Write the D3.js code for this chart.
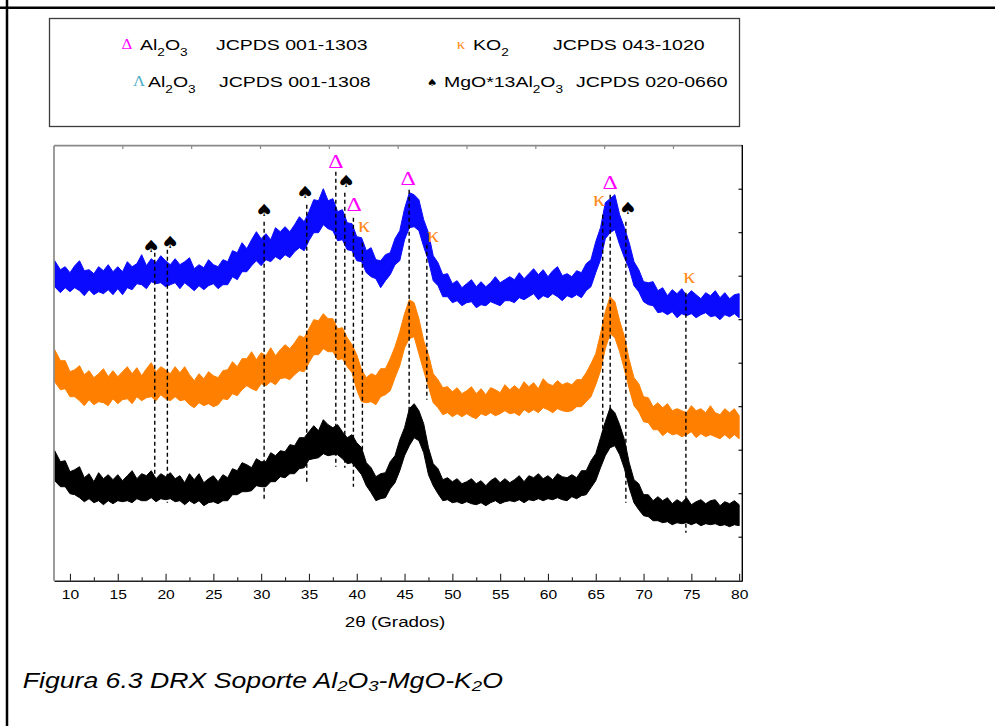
<!DOCTYPE html>
<html><head><meta charset="utf-8">
<script src="https://cdn.jsdelivr.net/npm/d3@7"></script>
<style>body{margin:0;background:#fff}svg{display:block}</style>
</head><body><svg id="c" width="995" height="726"></svg>
<script>
// ---------------- DATA ----------------
const angles = [8.4,9,9.5,10,10.5,11,11.5,12,12.5,13,13.5,14,
14.5,15,15.5,16,16.5,17,17.5,18,18.5,19,19.5,20,
20.5,21,21.5,22,22.5,23,23.5,24,24.5,25,25.5,26,
26.5,27,27.5,28,28.5,29,29.5,30,30.5,31,31.5,32,
32.5,33,33.5,34,34.5,35,35.5,36,36.5,37,37.5,38,
38.5,39,39.5,40,40.5,41,41.5,42,42.5,43,43.5,44,
44.5,45,45.5,46,46.5,47,47.5,48,48.5,49,49.5,50,
50.5,51,51.5,52,52.5,53,53.5,54,54.5,55,55.5,56,
56.5,57,57.5,58,58.5,59,59.5,60,60.5,61,61.5,62,
62.5,63,63.5,64,64.5,65,65.5,66,66.5,67,67.5,68,
68.5,69,69.5,70,70.5,71,71.5,72,72.5,73,73.5,74,
74.5,75,75.5,76,76.5,77,77.5,78,78.5,79,79.5,80];

// intensity (a.u.): centre of each noisy trace, plus how far the noise reaches above / below it
const blueMid = [304,303,302,302,301,302,301,300,300,299,300,299,
300,301,302,303,304,305,307,307,308,309,308,309,
308,307,306,306,305,305,304,304,305,305,306,307,
309,313,316,319,323,326,329,331,331,333,335,336,
337,339,341,343,347,353,359,366,368,367,363,357,
353,347,341,335,329,322,316,311,308,311,319,326,
336,353,367,371,363,349,331,316,305,298,293,290,
288,287,287,286,286,286,287,287,288,289,289,290,
291,292,293,294,295,295,296,296,296,296,295,295,
295,296,297,301,309,321,338,356,366,366,353,336,
323,309,298,291,286,283,281,279,278,278,277,277,
277,276,276,276,276,276,275,275,275,275,275,275];
const blueUp = [16,8,12,6,14,18,9,11,7,15,10,17,
9,13,7,16,10,12,19,8,14,9,17,11,
8,15,10,13,18,7,12,9,16,11,8,14,
10,17,12,19,9,15,20,11,16,8,18,13,
17,10,15,21,12,16,22,14,24,13,19,12,
18,11,16,9,14,8,17,10,12,15,9,16,
14,19,21,15,18,12,17,9,13,8,14,7,
12,6,10,15,8,13,7,11,16,9,12,14,
10,16,9,13,17,11,15,8,14,18,10,12,
9,14,11,16,12,18,15,22,16,20,13,17,
15,10,13,8,12,16,9,14,7,13,10,15,
8,14,10,6,12,9,15,8,13,7,11,12];
const blueDown = [10,15,9,13,8,12,16,9,14,10,13,8,
14,9,16,10,13,8,11,15,9,12,10,15,
12,9,14,8,11,15,9,13,10,8,14,11,
13,9,15,10,14,11,9,16,10,14,11,15,
11,16,12,10,17,13,11,18,12,15,13,17,
12,16,11,15,10,14,12,9,15,11,13,10,
16,12,14,17,13,15,11,16,10,14,9,12,
8,12,9,7,13,10,12,8,11,14,9,10,
13,9,12,10,8,14,11,13,9,12,15,10,
12,10,14,11,15,13,17,14,18,15,17,13,
11,14,9,12,10,8,13,10,12,9,14,10,
12,9,13,10,8,12,10,14,9,11,8,12];

const orangeMid = [213,209,204,200,197,195,194,193,193,192,193,193,
194,194,195,195,195,196,196,197,197,198,198,198,
197,196,195,194,192,191,190,190,190,191,192,194,
197,200,203,205,207,208,209,210,212,213,214,215,
217,219,221,223,228,234,240,244,247,248,244,239,
236,231,221,207,197,192,191,193,197,202,208,217,
231,247,259,259,245,226,208,195,186,182,180,179,
178,178,177,177,177,178,178,178,179,179,180,180,
181,181,182,182,183,183,184,184,184,184,184,184,
185,186,188,192,199,210,227,247,263,261,245,225,
206,191,181,174,169,165,163,161,160,160,159,159,
159,159,158,158,158,158,157,157,157,156,156,155];
const orangeUp = [18,11,16,9,14,20,12,17,10,15,19,11,
16,10,14,19,12,17,9,15,21,11,16,13,
10,18,13,20,14,9,17,12,19,14,11,16,
14,19,11,17,15,21,12,18,13,20,11,16,
19,13,17,22,15,18,21,16,20,14,18,13,
17,12,15,19,14,11,16,12,15,10,14,17,
18,20,22,19,17,14,18,12,15,11,14,10,
15,9,13,17,10,14,8,15,12,9,16,11,
14,10,17,12,15,9,18,13,11,16,12,14,
11,15,13,16,18,17,20,22,21,18,15,19,
15,12,16,10,14,9,15,12,17,10,13,11,
9,16,12,14,10,17,11,9,15,12,16,10];
const orangeDown = [14,18,12,16,13,15,19,12,17,13,15,18,
12,17,14,13,18,12,16,14,13,18,12,16,
17,12,15,13,16,18,12,15,13,17,16,12,
16,13,18,14,12,16,19,13,17,14,18,13,
14,18,15,13,19,16,14,18,15,19,15,18,
14,17,13,16,18,14,12,17,13,16,18,14,
16,14,17,15,18,16,14,17,13,16,12,15,
11,14,10,13,15,11,13,10,14,12,10,13,
13,16,11,14,12,15,11,13,16,12,14,15,
15,12,14,13,15,14,17,15,16,18,16,14,
14,16,12,15,11,14,12,16,11,14,12,15,
13,10,15,11,14,12,13,15,11,14,10,13];

const blackMid = [113,109,105,101,98,96,94,93,92,92,91,91,
91,91,92,92,93,93,93,94,94,94,94,94,
93,93,92,91,91,90,90,89,90,90,91,92,
94,97,99,101,103,105,106,107,109,111,113,115,
117,119,122,125,129,133,136,138,140,141,140,138,
135,132,130,126,118,109,100,94,93,97,104,112,
124,138,150,157,156,141,121,107,98,93,91,90,
89,89,88,88,88,88,88,89,89,89,90,90,
91,91,91,92,92,92,93,93,93,93,93,93,
94,94,96,99,105,114,126,140,149,150,142,125,
105,91,82,77,74,72,71,70,69,69,69,69,
69,68,68,68,68,68,67,67,67,67,67,67];
const blackUp = [17,10,15,8,13,18,9,14,7,16,11,15,
10,15,8,13,17,9,14,11,16,8,13,10,
15,9,13,7,16,11,17,9,12,15,8,14,
9,15,11,17,13,8,16,12,10,17,12,15,
12,17,13,18,14,16,19,12,21,15,13,18,
14,11,16,12,15,9,13,10,14,11,15,13,
17,15,22,20,14,16,12,10,14,8,12,9,
13,8,11,14,9,12,7,11,14,9,12,8,
10,14,8,13,11,15,9,12,8,14,11,10,
12,9,14,11,15,13,17,19,24,18,14,16,
13,10,15,9,12,8,13,10,14,8,12,9,
14,8,11,13,9,12,14,8,12,10,13,9];
const blackDown = [13,15,11,14,12,13,15,11,14,12,15,11,
14,11,13,12,15,11,13,14,11,15,12,13,
11,14,12,15,11,13,10,14,12,11,14,12,
14,11,13,12,14,15,11,13,15,12,14,11,
14,12,15,13,16,12,14,15,13,16,14,12,
13,15,12,14,12,14,12,14,11,14,12,14,
14,13,15,14,16,13,15,12,11,13,10,12,
10,12,9,11,12,10,13,11,9,12,11,10,
12,10,13,11,12,10,13,11,12,10,12,13,
10,12,11,13,12,14,13,15,16,15,16,13,
12,13,11,12,10,12,11,12,10,13,11,12,
11,12,10,13,11,12,10,12,11,13,11,12];

const xMajorTicks = [10,15,20,25,30,35,40,45,50,55,60,65,70,75,80];
const xMinorTicks = [12.5,17.5,22.5,27.5,32.5,37.5,42.5,47.5,52.5,57.5,62.5,67.5,72.5,77.5];

// reflection markers
const peakAngles      = [18.87,20.19,30.31,34.77,37.81,38.75,39.65,40.59,45.48,47.33,65.73,66.51,68.15,74.43];
const peakPhases      = ["S","S","S","S","D","S","D","K","D","K","K","D","S","K"];
const peakLabelAngles = [18.48,20.47,30.31,34.6,37.81,38.89,39.72,40.77,45.37,47.99,65.36,66.51,68.36,74.78];
const peakLabelLevels = [335,339,371,389,419,400,376,353,402,343,379,398,373,302];
const peakLineTops    = [328,331,359,376,409,388,363,338,391,336,366,386,359,288];
const peakLineBottoms = [81,78,79,96,114,113,94,131,169,181,131,141,78,48];

// legend
const legendSymbols  = ["Δ","κ","Λ","♠"];
const legendColors   = ["#ff00ff","#ff8c1a","#4bacc6","#000000"];
const legendFormulas = [[["Al"],["2",1],["O"],["3",1]], [["KO"],["2",1]], [["Al"],["2",1],["O"],["3",1]], [["MgO*13Al"],["2",1],["O"],["3",1]]];
const legendCards    = ["JCPDS 001-1303","JCPDS 043-1020","JCPDS 001-1308","JCPDS 020-0660"];

const xTitle = "2θ (Grados)";
const captionParts = [["Figura 6.3 DRX Soporte Al"],["2",1],["O"],["3",1],["-MgO-K"],["2",1],["O"]];

// ---------------- DRAWING ----------------
const svg = d3.select("#c");
const SANS = "'Liberation Sans', Arial, sans-serif";
const SERIF = "'Liberation Serif', 'Times New Roman', serif";
const SX = 1.3;

const x = d3.scaleLinear().domain([8.33, 80.33]).range([54, 742.3]);
const y = d3.scaleLinear().domain([0, 435]).range([580.7, 145.7]);

// page border lines
svg.append("line").attr("x1",0).attr("x2",995).attr("y1",7.7).attr("y2",7.7).attr("stroke","#000").attr("stroke-width",2.5);
svg.append("line").attr("x1",7).attr("x2",7).attr("y1",0).attr("y2",726).attr("stroke","#000").attr("stroke-width",2.5);

function stext(parent, px, py, sx){
  return parent.append("text").attr("transform",`translate(${px},${py}) scale(${sx},1)`);
}
function addParts(t, parts, subSize, off){
  let lowered = false;
  parts.forEach(p=>{
    const ts = t.append("tspan").text(p[0]);
    if (p[1]) { ts.attr("font-size", subSize); if(!lowered){ts.attr("dy", off); lowered = true;} }
    else { if(lowered){ts.attr("dy", -off); lowered = false;} }
  });
}

// legend box
const lg = svg.append("g");
lg.append("rect").attr("x",49.5).attr("y",18.5).attr("width",690).attr("height",108)
  .attr("fill","none").attr("stroke","#3c3c3c").attr("stroke-width",1.3);
const legendLayout = [{s:127,f:140,c:216,b:50},{s:461,f:473,c:553,b:50},{s:139,f:148,c:219,b:86.5},{s:432,f:444,c:576,b:86.5}];
legendSymbols.forEach((sym,i)=>{
  const L = legendLayout[i];
  const isSpade = sym === "♠";
  stext(lg, L.s, L.b - 1, 1.2).attr("text-anchor","middle")
    .attr("font-family", isSpade ? "'DejaVu Sans', sans-serif" : SERIF)
    .attr("font-size", isSpade ? 10 : 14).attr("fill", legendColors[i]).text(sym);
  const ft = stext(lg, L.f, L.b, SX).attr("font-family",SANS).attr("font-size",15).attr("fill","#000");
  addParts(ft, legendFormulas[i], 10.5, 6);
  stext(lg, L.c, L.b, SX).attr("font-family",SANS).attr("font-size",15).attr("fill","#000").text(legendCards[i]);
});

// series bands (noise envelope of each diffractogram)
const series = [
  {mid: blueMid, up: blueUp, down: blueDown, color: "#0a0aff"},
  {mid: orangeMid, up: orangeUp, down: orangeDown, color: "#ff8000"},
  {mid: blackMid, up: blackUp, down: blackDown, color: "#000000"}
];
series.forEach(s=>{
  const gen = d3.area().x((d,i)=>x(angles[i]))
    .y0((d,i)=>y(s.mid[i]-s.down[i])).y1((d,i)=>y(s.mid[i]+s.up[i])).curve(d3.curveLinear);
  svg.append("path").datum(angles).attr("d", gen)
    .attr("fill", s.color).attr("stroke", s.color).attr("stroke-width", 1).attr("stroke-linejoin","miter");
});

// plot frame
const fr = svg.append("g");
fr.append("line").attr("x1",54).attr("x2",54).attr("y1",145.7).attr("y2",580.7).attr("stroke","#8a8a8a").attr("stroke-width",1.7);
fr.append("line").attr("x1",54).attr("x2",742.3).attr("y1",145.7).attr("y2",145.7).attr("stroke","#8a8a8a").attr("stroke-width",1.7);
fr.append("line").attr("x1",742.3).attr("x2",742.3).attr("y1",145).attr("y2",581).attr("stroke","#000").attr("stroke-width",1.4);
const div = d3.scaleLinear().domain([0,10]);
d3.range(1,10).forEach(i=>{
  const fx = div.range([54,742.3])(i), fy = div.range([580.7,145.7])(i);
  fr.append("line").attr("x1",fx).attr("x2",fx).attr("y1",145.7).attr("y2",149).attr("stroke","#8a8a8a").attr("stroke-width",1.2);
  fr.append("line").attr("x1",742.3).attr("x2",738.5).attr("y1",fy).attr("y2",fy).attr("stroke","#000").attr("stroke-width",1.1);
});

// bottom axis
const ax = svg.append("g").attr("transform","translate(0,580.7)")
  .call(d3.axisBottom(x).tickValues(xMajorTicks).tickSize(-7).tickSizeOuter(0).tickFormat(d3.format("d")));
ax.select(".domain").attr("stroke","#222").attr("stroke-width",1.4);
ax.selectAll(".tick line").attr("stroke","#222").attr("stroke-width",1.1);
ax.selectAll(".tick text").attr("y",null).attr("dy",null)
  .attr("transform",`translate(0,17.8) scale(${SX},1)`)
  .attr("font-family",SANS).attr("font-size",12).attr("fill","#000");
const axm = svg.append("g").attr("transform","translate(0,580.7)")
  .call(d3.axisBottom(x).tickValues(xMinorTicks).tickSize(-3.5).tickSizeOuter(0).tickFormat(""));
axm.select(".domain").remove();
axm.selectAll(".tick line").attr("stroke","#222").attr("stroke-width",1.1);

stext(svg, 395, 626.5, SX).attr("text-anchor","middle").attr("font-family",SANS).attr("font-size",14.5).attr("fill","#000").text(xTitle);

// dashed reference lines + phase symbols
const mk = svg.append("g");
peakAngles.forEach((a,i)=>{
  mk.append("line").attr("x1",x(a)).attr("x2",x(a)).attr("y1",y(peakLineTops[i])).attr("y2",y(peakLineBottoms[i]))
    .attr("stroke","#000").attr("stroke-width",1.4).attr("stroke-dasharray","4,3");
});
const glyph = {
  D:{ch:"Δ", fill:"#ff00ff", font:SERIF, size:19, sx:1.25, dy:6.5},
  K:{ch:"κ", fill:"#ff8c1a", font:SERIF, size:21, sx:1.15, dy:4.5},
  S:{ch:"♠", fill:"#000", font:"'DejaVu Sans', sans-serif", size:17, sx:1.2, dy:6}
};
peakPhases.forEach((p,i)=>{
  const G = glyph[p];
  stext(mk, x(peakLabelAngles[i]), y(peakLabelLevels[i]) + G.dy, G.sx).attr("text-anchor","middle")
    .attr("font-family",G.font).attr("font-size",G.size).attr("fill",G.fill).text(G.ch);
});

// caption
const cap = stext(svg, 22.7, 688, 1.24).attr("font-family",SANS).attr("font-style","italic").attr("font-size",21.5).attr("fill","#000");
addParts(cap, captionParts, 15, 3);
</script></body></html>
